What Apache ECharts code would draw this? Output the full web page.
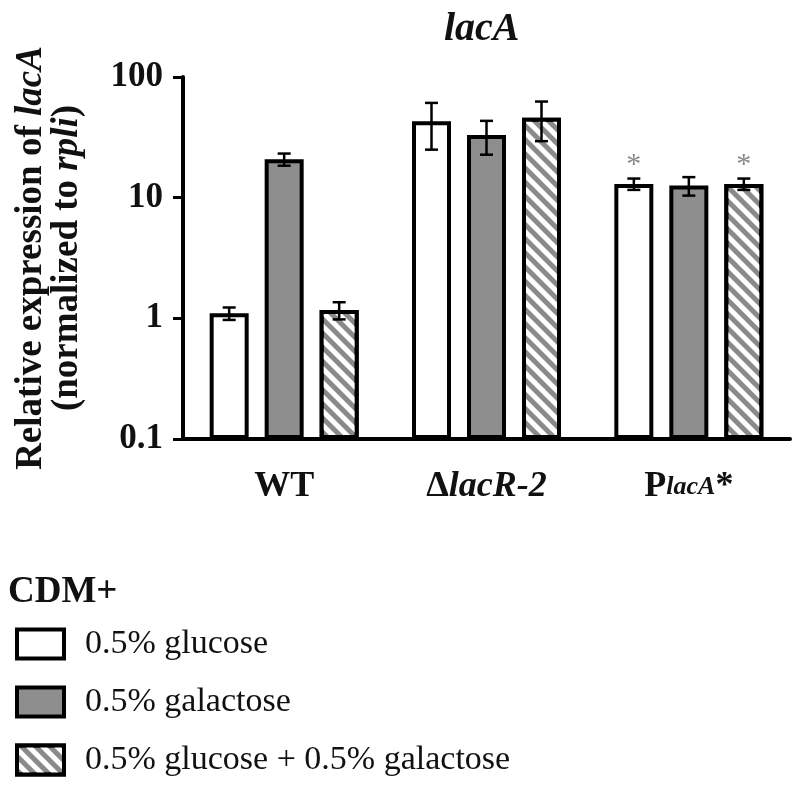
<!DOCTYPE html>
<html><head><meta charset="utf-8">
<script src="https://cdn.jsdelivr.net/npm/echarts@6/dist/echarts.min.js"></script>
<style>html,body{margin:0;padding:0;background:#fff}#c{width:800px;height:794px}</style>
</head><body><div id="c"></div>
<script>
const categories = ['WT', 'ΔlacR-2', 'PlacA*'];
const seriesNames = ['0.5% glucose', '0.5% galactose', '0.5% glucose + 0.5% galactose'];
const glucose = [1.1, 43, 13];
const glucoseErr = [0.13, 18, 1.4];
const galactose = [20.8, 33, 12.6];
const galactoseErr = [2.4, 10.3, 2.2];
const mixed = [1.17, 46, 13];
const mixedErr = [0.19, 16.6, 1.4];
const glucoseStar = [false, false, true];
const galactoseStar = [false, false, false];
const mixedStar = [false, false, true];
const yTicks = [0.1, 1, 10, 100];

const FONT = "'Liberation Serif', 'Times New Roman', serif";
const BAR_W = 39;
const BAR_STEP = 55;

function barData(vals, stars) {
  return vals.map((v, i) => stars[i] ? { value: v, label: { show: true } } : v);
}
function errRender(offset) {
  return function (params, api) {
    const i = api.value(0), v = api.value(1), e = api.value(2);
    const c = api.coord([i, v]);
    const x = c[0] + offset;
    const top = api.coord([i, v + e])[1];
    const bot = api.coord([i, v - e])[1];
    const hw = 6.5;
    const st = { stroke: '#000', lineWidth: 2.5 };
    return { type: 'group', children: [
      { type: 'line', shape: { x1: x, y1: top, x2: x, y2: bot }, style: st },
      { type: 'line', shape: { x1: x - hw, y1: top, x2: x + hw, y2: top }, style: st },
      { type: 'line', shape: { x1: x - hw, y1: bot, x2: x + hw, y2: bot }, style: st }
    ] };
  };
}
function errSeries(vals, errs, offset) {
  return { type: 'custom', renderItem: errRender(offset), z: 10, silent: true,
    data: vals.map((v, i) => [i, v, errs[i]]) };
}
const starLabel = { show: false, position: 'top', distance: 4, formatter: '*', color: '#8a8a8a', fontSize: 30, fontFamily: FONT };

const chart = echarts.init(document.getElementById('c'), null, { renderer: 'canvas' });
chart.setOption({
  animation: false,
  backgroundColor: '#fff',
  title: [
    { text: 'lacA', left: 439, top: 5, textStyle: { fontFamily: FONT, fontSize: 40, fontWeight: 'bold', fontStyle: 'italic', color: '#111' } },
    { text: 'CDM+', left: 3, top: 569, textStyle: { fontFamily: FONT, fontSize: 37, fontWeight: 'bold', color: '#111' } }
  ],
  grid: { left: 183, right: 10, top: 77, bottom: 355, containLabel: false },
  legend: {
    data: seriesNames, orient: 'vertical', left: 10, top: 622, itemWidth: 47, itemHeight: 29, itemGap: 24,
    icon: 'rect', selectedMode: false,
    itemStyle: { borderWidth: 4, borderColor: '#000' },
    textStyle: { fontFamily: FONT, fontSize: 34, color: '#111', padding: [0, 0, 0, 16] }
  },
  xAxis: {
    type: 'category', data: categories,
    axisLine: { lineStyle: { color: '#000', width: 4 } },
    axisTick: { alignWithLabel: true, length: 12, lineStyle: { color: '#000', width: 4 } },
    axisLabel: {
      margin: 30,
      formatter: function (v, i) {
        if (i === 0) return '{b|WT}';
        if (i === 1) return '{b|Δ}{bi|lacR-2}';
        return '{b|P}{si|lacA}{b|*}';
      },
      rich: {
        b: { fontFamily: FONT, fontSize: 36, fontWeight: 'bold', color: '#111' },
        bi: { fontFamily: FONT, fontSize: 36, fontWeight: 'bold', fontStyle: 'italic', color: '#111' },
        si: { fontFamily: FONT, fontSize: 26, fontWeight: 'bold', fontStyle: 'italic', color: '#111' }
      }
    }
  },
  yAxis: {
    type: 'log', logBase: 10, min: 0.1, max: 100, startValue: 0.1,
    splitLine: { show: false },
    axisLine: { show: true, lineStyle: { color: '#000', width: 4 } },
    axisTick: { show: true, length: 10, lineStyle: { color: '#000', width: 3 } },
    axisLabel: { margin: 20, fontFamily: FONT, fontSize: 35, fontWeight: 'bold', color: '#111',
      formatter: function (v) { const t = yTicks.find(k => Math.abs(k - v) / k < 1e-6); return t === undefined ? '' : String(t); } },
    name: '{b|Relative expression of }{bi|lacA}\n{b|(normalized to }{bi|rpli}{b|)}',
    nameLocation: 'middle', nameGap: 98, nameRotate: 90,
    nameTextStyle: {
      rich: {
        b: { fontFamily: FONT, fontSize: 37, fontWeight: 'bold', color: '#111', lineHeight: 36 },
        bi: { fontFamily: FONT, fontSize: 37, fontWeight: 'bold', fontStyle: 'italic', color: '#111', lineHeight: 36 }
      }
    }
  },
  series: [
    { name: seriesNames[0], type: 'bar', barWidth: BAR_W, barGap: (BAR_STEP - BAR_W) / BAR_W * 100 + '%',
      data: barData(glucose, glucoseStar), label: starLabel,
      itemStyle: { color: '#fff', borderColor: '#000', borderWidth: 4 } },
    { name: seriesNames[1], type: 'bar', barWidth: BAR_W,
      data: barData(galactose, galactoseStar), label: starLabel,
      itemStyle: { color: '#8e8e8e', borderColor: '#000', borderWidth: 4 } },
    { name: seriesNames[2], type: 'bar', barWidth: BAR_W,
      data: barData(mixed, mixedStar), label: starLabel,
      itemStyle: { color: '#8a8a8a', borderColor: '#000', borderWidth: 4,
        decal: { symbol: 'rect', symbolSize: 1, color: '#fff', dashArrayX: [1, 0], dashArrayY: [5, 5], rotation: Math.PI / 4 } } },
    errSeries(glucose, glucoseErr, -BAR_STEP),
    errSeries(galactose, galactoseErr, 0),
    errSeries(mixed, mixedErr, BAR_STEP)
  ]
});
</script></body></html>
